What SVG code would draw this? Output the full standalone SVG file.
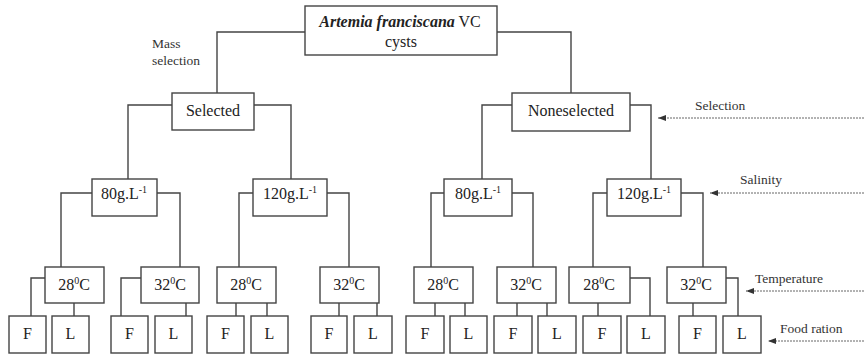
<svg xmlns="http://www.w3.org/2000/svg" width="864" height="355" viewBox="0 0 864 355">
  <style>
    .box { fill: #fff; stroke: #444; stroke-width: 1.4; }
    .wire { fill: none; stroke: #444; stroke-width: 1.4; }
    .cue { fill: none; stroke: #666; stroke-width: 1; stroke-dasharray: 2 1; }
    .t { font-family: "Liberation Serif", "DejaVu Serif", "Times New Roman", serif; font-size: 16px; fill: #222; text-anchor: middle; }
    .lbl { font-family: "Liberation Serif", "DejaVu Serif", "Times New Roman", serif; font-size: 13.5px; fill: #333; }
    .sup { font-size: 10px; }
  </style>
  <defs>
    <marker id="head" viewBox="0 0 8 8" refX="8" refY="4" markerWidth="8" markerHeight="8" markerUnits="userSpaceOnUse" orient="auto">
      <path d="M8,4 L0,1 L0,7 Z" fill="#333"/>
    </marker>
  </defs>

  <!-- connectors -->
  <g id="connectors">
    <path class="wire" d="M305,32 H217 V93"/>
    <path class="wire" d="M497,32 H571 V93"/>
    <path class="wire" d="M172,105 H128 V179"/>
    <path class="wire" d="M254,105 H291 V179"/>
    <path class="wire" d="M512,105 H482 V179"/>
    <path class="wire" d="M630,105 H651 V179"/>
    <path class="wire" d="M92,193 H61 V267"/>
    <path class="wire" d="M157,193 H180 V267"/>
    <path class="wire" d="M253,193 H239 V267"/>
    <path class="wire" d="M327,193 H349 V267"/>
    <path class="wire" d="M444,193 H431 V267"/>
    <path class="wire" d="M512,193 H533 V267"/>
    <path class="wire" d="M607,193 H593 V267"/>
    <path class="wire" d="M681,193 H703 V267"/>
    <path class="wire" d="M45,278 H31 V316"/>
    <path class="wire" d="M74,303 V316"/>
    <path class="wire" d="M141,278 H121 V316"/>
    <path class="wire" d="M186,303 V316"/>
    <path class="wire" d="M236,303 V316"/>
    <path class="wire" d="M267,303 V316"/>
    <path class="wire" d="M339,303 V316"/>
    <path class="wire" d="M377,303 V316"/>
    <path class="wire" d="M435,303 V316"/>
    <path class="wire" d="M465,303 V316"/>
    <path class="wire" d="M517,303 V316"/>
    <path class="wire" d="M547,303 V316"/>
    <path class="wire" d="M598,303 V316"/>
    <path class="wire" d="M630,278 H650 V316"/>
    <path class="wire" d="M693,303 V316"/>
    <path class="wire" d="M726,278 H738 V316"/>
    <!-- factor cues -->
    <path class="cue" d="M864,118 H658" marker-end="url(#head)"/>
    <path class="cue" d="M864,193 H710" marker-end="url(#head)"/>
    <path class="cue" d="M864,291 H746" marker-end="url(#head)"/>
    <path class="cue" d="M864,341 H768" marker-end="url(#head)"/>
  </g>

  <!-- factor labels -->
  <g id="labels">
    <text class="lbl" x="152" y="48">Mass</text>
    <text class="lbl" x="152" y="65">selection</text>
    <text class="lbl" x="695" y="110">Selection</text>
    <text class="lbl" x="740" y="184">Salinity</text>
    <text class="lbl" x="755" y="283">Temperature</text>
    <text class="lbl" x="780" y="333">Food ration</text>
  </g>

  <!-- root -->
  <g id="root">
    <rect class="box" x="305" y="6" width="192" height="49"/>
    <text class="t" x="400" y="27" font-size="17"><tspan font-weight="bold" font-style="italic">Artemia franciscana</tspan> VC</text>
    <text class="t" x="401" y="47">cysts</text>
  </g>

  <!-- selection level -->
  <g id="selected">
    <rect class="box" x="172" y="93" width="82" height="37"/>
    <text class="t" x="213" y="116">Selected</text>
  </g>
  <g id="nonselected">
    <rect class="box" x="512" y="93" width="118" height="38"/>
    <text class="t" x="571" y="116">Noneselected</text>
  </g>

  <!-- salinity level -->
  <g id="sal-s80">
    <rect class="box" x="92" y="179" width="65" height="37"/>
    <text class="t" x="124" y="199">80g.L<tspan class="sup" dy="-6">-1</tspan></text>
  </g>
  <g id="sal-s120">
    <rect class="box" x="253" y="179" width="74" height="37"/>
    <text class="t" x="290" y="199">120g.L<tspan class="sup" dy="-6">-1</tspan></text>
  </g>
  <g id="sal-n80">
    <rect class="box" x="444" y="179" width="68" height="37"/>
    <text class="t" x="478" y="199">80g.L<tspan class="sup" dy="-6">-1</tspan></text>
  </g>
  <g id="sal-n120">
    <rect class="box" x="607" y="179" width="74" height="37"/>
    <text class="t" x="644" y="199">120g.L<tspan class="sup" dy="-6">-1</tspan></text>
  </g>

  <!-- temperature level -->
  <g id="temp-1"><rect class="box" x="45" y="267" width="59" height="36"/><text class="t" x="74" y="290">28<tspan class="sup" dy="-6">0</tspan><tspan dy="6">C</tspan></text></g>
  <g id="temp-2"><rect class="box" x="141" y="267" width="58" height="36"/><text class="t" x="170" y="290">32<tspan class="sup" dy="-6">0</tspan><tspan dy="6">C</tspan></text></g>
  <g id="temp-3"><rect class="box" x="217" y="267" width="59" height="36"/><text class="t" x="246" y="290">28<tspan class="sup" dy="-6">0</tspan><tspan dy="6">C</tspan></text></g>
  <g id="temp-4"><rect class="box" x="320" y="267" width="59" height="36"/><text class="t" x="349" y="290">32<tspan class="sup" dy="-6">0</tspan><tspan dy="6">C</tspan></text></g>
  <g id="temp-5"><rect class="box" x="414" y="267" width="59" height="36"/><text class="t" x="443" y="290">28<tspan class="sup" dy="-6">0</tspan><tspan dy="6">C</tspan></text></g>
  <g id="temp-6"><rect class="box" x="497" y="267" width="59" height="36"/><text class="t" x="526" y="290">32<tspan class="sup" dy="-6">0</tspan><tspan dy="6">C</tspan></text></g>
  <g id="temp-7"><rect class="box" x="569" y="267" width="61" height="36"/><text class="t" x="599" y="290">28<tspan class="sup" dy="-6">0</tspan><tspan dy="6">C</tspan></text></g>
  <g id="temp-8"><rect class="box" x="667" y="267" width="59" height="36"/><text class="t" x="696" y="290">32<tspan class="sup" dy="-6">0</tspan><tspan dy="6">C</tspan></text></g>

  <!-- food ration level -->
  <g id="food-1f"><rect class="box" x="9" y="316" width="37" height="37"/><text class="t" x="27.5" y="339">F</text></g>
  <g id="food-1l"><rect class="box" x="52" y="316" width="37" height="37"/><text class="t" x="70.5" y="339">L</text></g>
  <g id="food-2f"><rect class="box" x="111" y="316" width="37" height="37"/><text class="t" x="129.5" y="339">F</text></g>
  <g id="food-2l"><rect class="box" x="155" y="316" width="37" height="37"/><text class="t" x="173.5" y="339">L</text></g>
  <g id="food-3f"><rect class="box" x="207" y="316" width="37" height="37"/><text class="t" x="225.5" y="339">F</text></g>
  <g id="food-3l"><rect class="box" x="251" y="316" width="37" height="37"/><text class="t" x="269.5" y="339">L</text></g>
  <g id="food-4f"><rect class="box" x="311" y="316" width="36" height="37"/><text class="t" x="329" y="339">F</text></g>
  <g id="food-4l"><rect class="box" x="354" y="316" width="38" height="37"/><text class="t" x="373" y="339">L</text></g>
  <g id="food-5f"><rect class="box" x="406" y="316" width="38" height="37"/><text class="t" x="425" y="339">F</text></g>
  <g id="food-5l"><rect class="box" x="450" y="316" width="37" height="37"/><text class="t" x="468.5" y="339">L</text></g>
  <g id="food-6f"><rect class="box" x="494" y="316" width="38" height="37"/><text class="t" x="513" y="339">F</text></g>
  <g id="food-6l"><rect class="box" x="538" y="316" width="38" height="37"/><text class="t" x="557" y="339">L</text></g>
  <g id="food-7f"><rect class="box" x="583" y="316" width="38" height="37"/><text class="t" x="602" y="339">F</text></g>
  <g id="food-7l"><rect class="box" x="627" y="316" width="38" height="37"/><text class="t" x="646" y="339">L</text></g>
  <g id="food-8f"><rect class="box" x="679" y="316" width="37" height="37"/><text class="t" x="697.5" y="339">F</text></g>
  <g id="food-8l"><rect class="box" x="723" y="316" width="38" height="37"/><text class="t" x="742" y="339">L</text></g>
</svg>
